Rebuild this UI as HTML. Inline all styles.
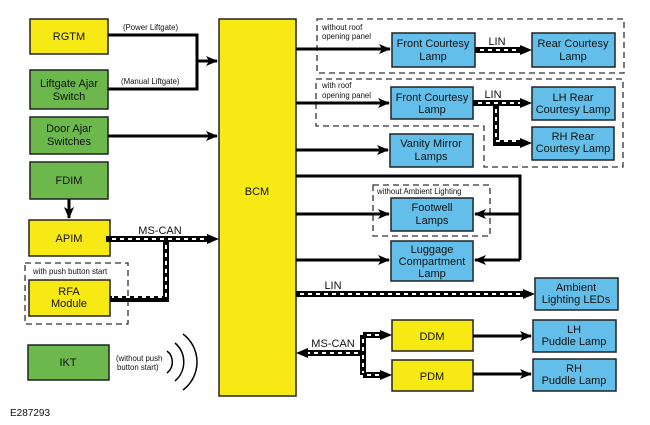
<!DOCTYPE html>
<html><head><meta charset="utf-8"><style>
html,body{margin:0;padding:0;background:#fff;}
svg{display:block;}
text{font-family:"Liberation Sans",sans-serif;fill:#111;}
</style></head><body>
<svg width="650" height="425" viewBox="0 0 650 425" xmlns="http://www.w3.org/2000/svg">
<defs>
<marker id="ah" markerWidth="12" markerHeight="10" refX="11" refY="5" orient="auto" markerUnits="userSpaceOnUse">
<path d="M0,0 L12,5 L0,10 L3,5 Z" fill="#000"/></marker>
</defs>
<g stroke="#222" stroke-width="1.5">
<rect x="219" y="19" width="77" height="377" fill="#f7e914"/>
<rect x="30" y="19" width="78" height="35" fill="#f7e914"/>
<rect x="29" y="220" width="81" height="36" fill="#f7e914"/>
<rect x="29" y="280" width="81" height="36" fill="#f7e914"/>
<rect x="392" y="320" width="81" height="31" fill="#f7e914"/>
<rect x="392" y="360" width="81" height="31" fill="#f7e914"/>
<rect x="30" y="70" width="78" height="39" fill="#6cb84c"/>
<rect x="30" y="117" width="78" height="37" fill="#6cb84c"/>
<rect x="30" y="162" width="78" height="37" fill="#6cb84c"/>
<rect x="28" y="345" width="81" height="35" fill="#6cb84c"/>
<rect x="392" y="33" width="83" height="34" fill="#63bfe9"/>
<rect x="532" y="33" width="83" height="34" fill="#63bfe9"/>
<rect x="391" y="87" width="82" height="32" fill="#63bfe9"/>
<rect x="532" y="87" width="83" height="33" fill="#63bfe9"/>
<rect x="532" y="127" width="82" height="33" fill="#63bfe9"/>
<rect x="390" y="134" width="83" height="33" fill="#63bfe9"/>
<rect x="391" y="198" width="82" height="33" fill="#63bfe9"/>
<rect x="391" y="241" width="82" height="40" fill="#63bfe9"/>
<rect x="535" y="278" width="83" height="32" fill="#63bfe9"/>
<rect x="533" y="320" width="83" height="32" fill="#63bfe9"/>
<rect x="533" y="359" width="83" height="32" fill="#63bfe9"/>
</g>
<g fill="none" stroke="#333" stroke-width="1.3" stroke-dasharray="6,4">
<rect x="317" y="19" width="307" height="54"/>
<path d="M316,79 H623 V167 H484 V126 H316 Z"/>
<rect x="373" y="185" width="117" height="51"/>
<rect x="25" y="263" width="103" height="61"/>
</g>
<g fill="none" stroke="#000" stroke-width="3">
<path d="M108,35 H197 V89 H108"/>
<path d="M197,61 H217" marker-end="url(#ah)"/>
<path d="M108,136 H217" marker-end="url(#ah)"/>
<path d="M69,199 V218" marker-end="url(#ah)"/>
<path d="M296,49 H390" marker-end="url(#ah)"/>
<path d="M296,103 H389" marker-end="url(#ah)"/>
<path d="M296,150 H388" marker-end="url(#ah)"/>
<path d="M296,176 H520 V260"/>
<path d="M296,214 H389" marker-end="url(#ah)"/>
<path d="M520,214 H475" marker-end="url(#ah)"/>
<path d="M296,260 H389" marker-end="url(#ah)"/>
<path d="M520,260 H475" marker-end="url(#ah)"/>
<path d="M473,336 H531" marker-end="url(#ah)"/>
<path d="M473,374 H531" marker-end="url(#ah)"/>
</g>
<g fill="none" stroke="#000" stroke-width="6">
<path d="M106,239 H210"/><path d="M166,239 V299 H110"/>
<path d="M475,50 H522"/>
<path d="M473,103 H522"/><path d="M496,103 V143 H522"/>
<path d="M296,294 H526"/>
<path d="M304,353 H363"/><path d="M363,335 V375"/><path d="M363,335 H383"/><path d="M363,375 H383"/>
</g>
<g fill="none" stroke="#fff" stroke-width="2" stroke-dasharray="4,4">
<path d="M112,239 H208"/><path d="M166,245 V297 H112"/>
<path d="M480,50 H520"/>
<path d="M478,103 H520"/><path d="M496,109 V141 H520"/>
<path d="M300,294 H524"/>
<path d="M306,353 H361"/><path d="M363,339 V373"/><path d="M367,335 H383"/><path d="M367,375 H383"/>
</g>
<g fill="#000">
<path d="M219,239 L207,234 L207,244 Z"/>
<path d="M532,50 L520,45 L520,55 Z"/>
<path d="M532,103 L520,98 L520,108 Z"/>
<path d="M532,143 L520,138 L520,148 Z"/>
<path d="M535,294 L523,289 L523,299 Z"/>
<path d="M296,353 L308,348 L308,358 Z"/>
<path d="M392,335 L380,330 L380,340 Z"/>
<path d="M392,375 L380,370 L380,380 Z"/>
</g>
<g fill="none" stroke="#000" stroke-width="1.5">
<path d="M167,351 A14,14 0 0 1 167,373"/>
<path d="M175,343 A25,25 0 0 1 175,381"/>
<path d="M183,334 A35,35 0 0 1 183,390"/>
</g>
<g font-size="11" text-anchor="middle">
<text x="69" y="40">RGTM</text>
<text x="69" y="87">Liftgate Ajar</text><text x="69" y="100">Switch</text>
<text x="69" y="132">Door Ajar</text><text x="69" y="145">Switches</text>
<text x="69" y="184">FDIM</text>
<text x="69" y="242">APIM</text>
<text x="69" y="295">RFA</text><text x="69" y="307">Module</text>
<text x="68" y="366">IKT</text>
<text x="257" y="195">BCM</text>
<text x="433" y="47">Front Courtesy</text><text x="433" y="60">Lamp</text>
<text x="573" y="47">Rear Courtesy</text><text x="573" y="60">Lamp</text>
<text x="432" y="101">Front Courtesy</text><text x="432" y="113">Lamp</text>
<text x="573" y="101">LH Rear</text><text x="573" y="113">Courtesy Lamp</text>
<text x="573" y="140">RH Rear</text><text x="573" y="152">Courtesy Lamp</text>
<text x="431" y="147">Vanity Mirror</text><text x="431" y="160">Lamps</text>
<text x="432" y="211">Footwell</text><text x="432" y="224">Lamps</text>
<text x="432" y="253">Luggage</text><text x="432" y="265">Compartment</text><text x="432" y="277">Lamp</text>
<text x="576" y="291">Ambient</text><text x="576" y="303">Lighting LEDs</text>
<text x="432" y="340">DDM</text>
<text x="432" y="380">PDM</text>
<text x="574" y="333">LH</text><text x="574" y="345">Puddle Lamp</text>
<text x="574" y="372">RH</text><text x="574" y="384">Puddle Lamp</text>
<text x="160" y="234">MS-CAN</text>
<text x="333" y="347">MS-CAN</text>
<text x="333" y="289">LIN</text>
<text x="497" y="45">LIN</text>
<text x="493" y="98">LIN</text>
</g>
<g font-size="7.8">
<text x="123" y="30">(Power Liftgate)</text>
<text x="121" y="84">(Manual Liftgate)</text>
<text x="322" y="30">without roof</text><text x="322" y="39">opening panel</text>
<text x="322" y="88">with roof</text><text x="322" y="98">opening panel</text>
<text x="377" y="194">without Ambient Lighting</text>
<text x="33" y="274">with push button start</text>
<text x="116" y="361">(without push</text><text x="117" y="370">button start)</text>
</g>
<text x="10" y="416" font-size="10">E287293</text>
</svg>
</body></html>
